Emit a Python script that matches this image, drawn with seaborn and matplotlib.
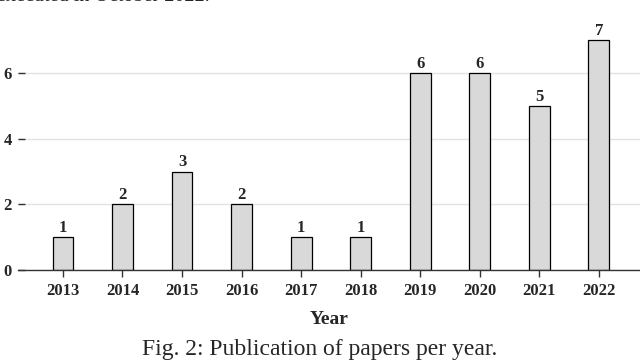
import pandas as pd
import matplotlib.pyplot as plt
import seaborn as sns

years = ['2013', '2014', '2015', '2016', '2017', '2018', '2019', '2020', '2021', '2022']
papers = [1, 2, 3, 2, 1, 1, 6, 6, 5, 7]

df = pd.DataFrame({'year': years, 'papers': papers})

sns.set_style('white')
plt.rcParams['font.family'] = ['Liberation Serif', 'DejaVu Serif']

fig = plt.figure(figsize=(6.4, 3.64), dpi=100)
ax = fig.add_axes([0.028, 0.258, 0.972, 0.685])

sns.barplot(data=df, x='year', y='papers', color='#d9d9d9', edgecolor='black',
            linewidth=0.9, width=0.35, saturation=1, ax=ax)

for c in ax.containers:
    ax.bar_label(c, fontsize=12, fontweight='bold', padding=1)

ax.set_xlim(-0.756, 9.69)
ax.set_ylim(0, 7.6)
ax.set_yticks([0, 2, 4, 6])
ax.yaxis.grid(True, color='#e3e3e3', linewidth=1)
ax.set_axisbelow(True)

for s in ['left', 'top', 'right']:
    ax.spines[s].set_visible(False)
ax.spines['bottom'].set_color('#333333')
ax.spines['bottom'].set_linewidth(1)

ax.tick_params(axis='x', length=5, width=1, color='#333333',
               labelsize=12, direction='out', bottom=True, pad=4)
ax.tick_params(axis='y', length=5, width=1, color='#333333',
               labelsize=12, direction='in', left=True, pad=4.5)
for lab in ax.get_xticklabels() + ax.get_yticklabels():
    lab.set_fontweight('bold')

ax.set_xlabel('Year', fontsize=14, fontweight='bold', labelpad=9)
ax.set_ylabel('')

fig.text(0.5, 0.04, 'Fig. 2: Publication of papers per year.', ha='center',
         va='center', fontsize=17)
fig.text(-0.004, 0.997, 'executed in October 2022.', ha='left',
         va='baseline', fontsize=14.5)

fig.savefig('out.png', dpi=100)
